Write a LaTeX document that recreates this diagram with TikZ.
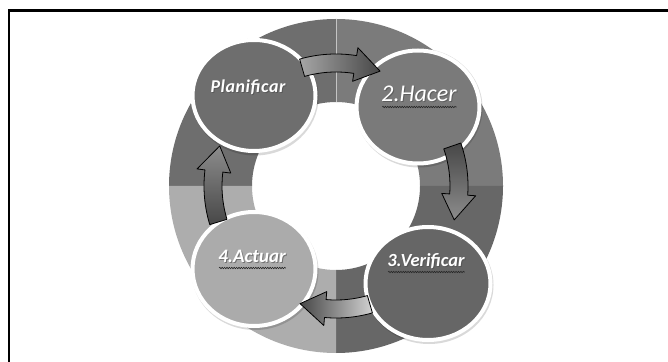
\documentclass[tikz,border=0pt]{standalone}
\usepackage{fontspec}
\setmainfont{Carlito}
\newfontfamily\planfont[LetterSpace=3]{Carlito}
\usetikzlibrary{calc,shapes.geometric,decorations.pathmorphing}

\definecolor{quadTL}{HTML}{6E6E6E}
\definecolor{quadTR}{HTML}{7B7B7B}
\definecolor{quadBR}{HTML}{676767}
\definecolor{quadBL}{HTML}{ADADAD}
\definecolor{stageA}{HTML}{6E6E6E}
\definecolor{stageB}{HTML}{7A7A7A}
\definecolor{stageC}{HTML}{666666}
\definecolor{stageD}{HTML}{ABABAB}

% one quarter of the ring, from angle #1 to angle #2
\newcommand\ringquarter[3]{%
  \fill[#3] ($(c)+(#1:167)$) arc[start angle=#1,end angle=#2,radius=167]
    -- ($(c)+(#2:84)$) arc[start angle=#2,end angle=#1,radius=84] -- cycle;}

% curved block arrow along the ring, clockwise from angle #1 to tip angle #2
\newcommand\cyclearrow[3]{%
  \pgfmathsetmacro\headbase{#2+12}%
  \path[cyclearrowstyle,#3] ($(c)+(#1:132)$)
    arc[start angle=#1,end angle=\headbase,radius=132]
    -- ($(c)+(\headbase:140)$) -- ($(c)+(#2:123)$) -- ($(c)+(\headbase:106)$)
    -- ($(c)+(\headbase:114)$)
    arc[start angle=\headbase,end angle=#1,radius=114] -- cycle;}

\begin{document}
\begin{tikzpicture}[x=1pt,y=1pt,
  cyclearrowstyle/.style={draw=black, line width=0.8pt, line join=round},
  stage/.style={ellipse, draw=white, line width=4pt, inner sep=0pt},
  halo/.style={ellipse, fill=black, opacity=0.15, inner sep=0pt},
  stagetext/.style={text=white, anchor=base, inner sep=0pt},
  textshadow/.style={text=black!70, anchor=base, inner sep=0pt, opacity=0.6},
  squiggle/.style={draw=black!85, line width=0.6pt, decorate,
    decoration={snake, amplitude=0.7pt, segment length=2.4pt}}]

\useasboundingbox (0,0) rectangle (668,361);

% page frame
\draw[line width=2.5pt] (9,-2) -- (9,350.5) -- (670,350.5);

% ring
\coordinate (c) at (336,175);
\ringquarter{90}{180}{quadTL}
\ringquarter{0}{90}{quadTR}
\ringquarter{-90}{0}{quadBR}
\ringquarter{180}{270}{quadBL}
\draw[white!55!quadTR, line width=1pt] ($(c)+(90:84)$) -- ($(c)+(90:167)$);

% stage discs
\foreach \pos/\w/\h in {{(255,264)}/127/117,{(419,253)}/127/119,{(429,76)}/129/118,{(255,90)}/127/118}
  \node[halo, minimum width=\w pt, minimum height=\h pt] at \pos {};
\node[stage, fill=stageA, minimum width=123pt, minimum height=111pt] (plan) at (254,265.5) {};
\node[stage, fill=stageB, minimum width=123pt, minimum height=113pt] (hacer) at (418,254) {};
\node[stage, fill=stageC, minimum width=125pt, minimum height=113pt] (verif) at (428,77.5) {};
\node[stage, fill=stageD, minimum width=123pt, minimum height=114pt] (actuar) at (254,92) {};

% stage labels
\node[textshadow] at (249,267.2) {\fontsize{18}{21}\selectfont\planfont\bfseries\itshape Planificar};
\node[stagetext] (tplan) at (248,268) {\fontsize{18}{21}\selectfont\planfont\bfseries\itshape Planificar};

\node[textshadow] at (420,258.2) {\fontsize{24}{28}\selectfont\itshape 2.Hacer};
\node[stagetext] (thacer) at (419,259) {\fontsize{24}{28}\selectfont\itshape 2.Hacer};

\node[textshadow] at (427,93.2) {\fontsize{18.5}{22}\selectfont\bfseries\itshape 3.Verificar};
\node[stagetext] (tverif) at (426,94) {\fontsize{18.5}{22}\selectfont\bfseries\itshape 3.Verificar};

\node[textshadow] at (253,97.2) {\fontsize{19}{22}\selectfont\bfseries\itshape 4.Actuar};
\node[stagetext] (tactuar) at (252,98) {\fontsize{19}{22}\selectfont\bfseries\itshape 4.Actuar};

% spelling marks under the labels
\foreach \t in {thacer,tverif,tactuar}
  \draw[squiggle] ($(\t.base west)+(1,-5)$) -- ($(\t.base east)+(0,-5)$);

% arrows between the stages
\cyclearrow{106}{69}{left color=black!35, right color=black!72, shading angle=90}
\cyclearrow{19}{-16}{top color=black!72, bottom color=black!45}
\cyclearrow{-74}{-107}{right color=black!18, left color=black!72, shading angle=90}
\cyclearrow{-163}{-199}{bottom color=black!72, top color=black!45}
\end{tikzpicture}
\end{document}
